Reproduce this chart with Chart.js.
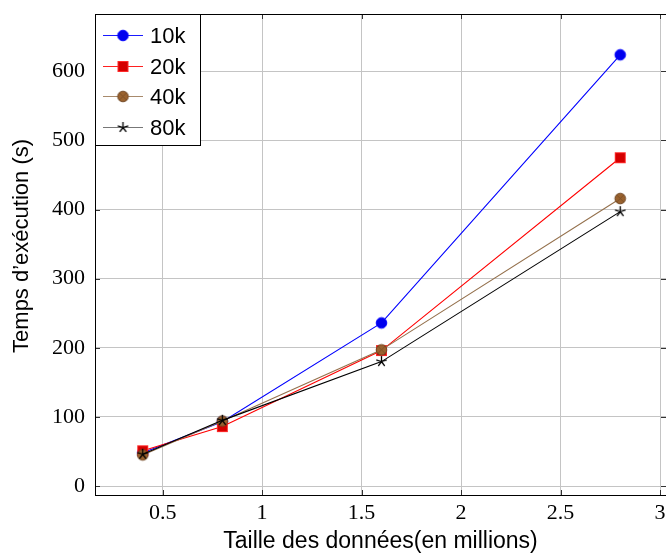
<!DOCTYPE html>
<html><head><meta charset="utf-8">
<script src="https://cdn.jsdelivr.net/npm/chart.js@4"></script>
<style>html,body{margin:0;padding:0;background:#fff}#wrap{width:666px;height:553px}</style>
</head><body><div id="wrap"><canvas id="c" width="666" height="553"></canvas></div>
<script>
// ---- data ----
const sizes = [0.4, 0.8, 1.6, 2.8];
const series10k = [48, 93, 236, 624];
const series20k = [51, 86, 196, 475];
const series40k = [45, 94, 197, 416];
const series80k = [46, 95, 180, 397];
const seriesNames = ['10k', '20k', '40k', '80k'];
const xTicks = [0.5, 1, 1.5, 2, 2.5, 3];
const yTicks = [0, 100, 200, 300, 400, 500, 600];
const xTitle = 'Taille des données(en millions)';
const yTitle = '\u2002 Temps d’exécution (s)';

// ---- styles ----
const lineColors = ['#0000ff', '#ff0000', '#94704c', '#000000'];
const legendLineColors = ['#1a1aff', '#ff2020', '#a88a6c', '#777777'];

function makeMarker(kind) {
  const s = 15, m = 7.5;
  const c = document.createElement('canvas');
  c.width = s; c.height = s;
  const g = c.getContext('2d');
  g.lineWidth = 1;
  if (kind === 'circle') {
    g.beginPath(); g.arc(m, m, 5.3, 0, Math.PI * 2);
    g.fillStyle = '#0000ee'; g.fill(); g.strokeStyle = '#0000ff'; g.stroke();
  } else if (kind === 'square') {
    g.fillStyle = '#d40000'; g.fillRect(m - 5, m - 5, 10, 10);
    g.strokeStyle = '#ff2a2a'; g.strokeRect(m - 5, m - 5, 10, 10);
  } else if (kind === 'otimes') {
    g.beginPath(); g.arc(m, m, 5.3, 0, Math.PI * 2);
    g.fillStyle = '#99622f'; g.fill(); g.strokeStyle = '#6e4522'; g.stroke();
    const d = 5.3 * Math.SQRT1_2;
    g.beginPath(); g.moveTo(m - d, m - d); g.lineTo(m + d, m + d);
    g.moveTo(m + d, m - d); g.lineTo(m - d, m + d);
    g.strokeStyle = '#7a4e26'; g.lineWidth = 0.8; g.stroke();
  } else if (kind === 'star') {
    g.beginPath();
    for (let k = 0; k < 5; k++) {
      const a = -Math.PI / 2 + k * 2 * Math.PI / 5;
      g.moveTo(m, m); g.lineTo(m + 5.5 * Math.cos(a), m + 5.5 * Math.sin(a));
    }
    g.strokeStyle = '#000'; g.lineWidth = 1.3; g.stroke();
  }
  return c;
}
const markers = [makeMarker('circle'), makeMarker('square'), makeMarker('otimes'), makeMarker('star')];
const allSeries = [series10k, series20k, series40k, series80k];

const datasets = allSeries.map((vals, i) => ({
  label: seriesNames[i],
  data: sizes.map((x, j) => ({x: x, y: vals[j]})),
  borderColor: lineColors[i],
  backgroundColor: lineColors[i],
  borderWidth: 1.1,
  pointStyle: markers[i],
  pointRadius: 6,
  tension: 0,
  order: 4 - i
}));

const frameAndTicks = {
  id: 'frameAndTicks',
  afterDatasetsDraw(chart) {
    const {ctx, chartArea: a, scales} = chart;
    ctx.save();
    ctx.strokeStyle = '#333'; ctx.lineWidth = 1;
    ctx.beginPath();
    xTicks.forEach(v => {
      const px = Math.round(scales.x.getPixelForValue(v)) + 0.5;
      ctx.moveTo(px, a.bottom); ctx.lineTo(px, a.bottom - 5);
      ctx.moveTo(px, a.top); ctx.lineTo(px, a.top + 5);
    });
    yTicks.forEach(v => {
      const py = Math.round(scales.y.getPixelForValue(v)) + 0.5;
      ctx.moveTo(a.left, py); ctx.lineTo(a.left + 5, py);
      ctx.moveTo(a.right, py); ctx.lineTo(a.right - 5, py);
    });
    ctx.stroke();
    ctx.strokeStyle = '#000';
    ctx.strokeRect(Math.round(a.left) + 0.5, Math.round(a.top) + 0.5, Math.round(a.right - a.left) + 2, Math.round(a.bottom - a.top));
    ctx.restore();
  }
};

const innerLegend = {
  id: 'innerLegend',
  afterDraw(chart) {
    const {ctx, chartArea: a} = chart;
    const x0 = Math.round(a.left), y0 = Math.round(a.top);
    const w = 105, h = 131;
    ctx.save();
    ctx.fillStyle = '#fff'; ctx.fillRect(x0, y0, w, h);
    ctx.strokeStyle = '#000'; ctx.lineWidth = 1;
    ctx.strokeRect(x0 + 0.5, y0 + 0.5, w, h);
    ctx.font = '22px "Liberation Sans", Arial, sans-serif';
    ctx.textBaseline = 'alphabetic';
    ctx.textAlign = 'left';
    seriesNames.forEach((name, i) => {
      const cy = y0 + 21 + i * 30.5;
      ctx.strokeStyle = legendLineColors[i]; ctx.lineWidth = 1.1;
      ctx.beginPath(); ctx.moveTo(x0 + 8, Math.round(cy) + 0.5); ctx.lineTo(x0 + 48, Math.round(cy) + 0.5); ctx.stroke();
      const mk = markers[i];
      ctx.drawImage(mk, x0 + 28 - mk.width / 2, Math.round(cy) + 0.5 - mk.height / 2);
      ctx.fillStyle = '#000';
      ctx.fillText(name, x0 + 55, cy + 8);
    });
    ctx.restore();
  }
};

new Chart(document.getElementById('c'), {
  type: 'line',
  data: {datasets},
  plugins: [frameAndTicks, innerLegend],
  options: {
    responsive: false,
    devicePixelRatio: 1,
    animation: false,
    layout: {autoPadding: false, padding: {top: 14, right: 0, left: 0, bottom: 0}},
    plugins: {legend: {display: false}, tooltip: {enabled: false}},
    scales: {
      x: {
        type: 'linear',
        min: 0.16, max: 3.03,
        afterBuildTicks: s => { s.ticks = xTicks.map(v => ({value: v})); },
        afterFit: s => { s.height = 58; s.paddingLeft = 0; s.paddingRight = 0; },
        grid: {color: '#c4c4c4', lineWidth: 1, drawTicks: false},
        border: {color: '#000', width: 1},
        ticks: {
          padding: 5, color: '#000', maxRotation: 0, autoSkip: false,
          font: {family: '"Liberation Serif", "Times New Roman", serif', size: 22},
          callback: v => String(v)
        },
        title: {display: true, text: xTitle, color: '#000',
          font: {family: '"Liberation Sans", Arial, sans-serif', size: 23, lineHeight: 1},
          padding: {top: 0, bottom: 0}}
      },
      y: {
        type: 'linear',
        min: -13, max: 683,
        afterBuildTicks: s => { s.ticks = yTicks.map(v => ({value: v})); },
        afterFit: s => { s.width = 95; s.paddingTop = 0; s.paddingBottom = 0; },
        grid: {color: '#c4c4c4', lineWidth: 1, drawTicks: false},
        border: {color: '#000', width: 1},
        ticks: {
          padding: 10, color: '#000', autoSkip: false,
          font: {family: '"Liberation Serif", "Times New Roman", serif', size: 22},
          callback: v => String(v)
        },
        title: {display: true, text: yTitle, color: '#000',
          font: {family: '"Liberation Sans", Arial, sans-serif', size: 22, lineHeight: 1},
          padding: {top: 10.5, bottom: 0}}
      }
    }
  }
});
</script>
</body></html>
